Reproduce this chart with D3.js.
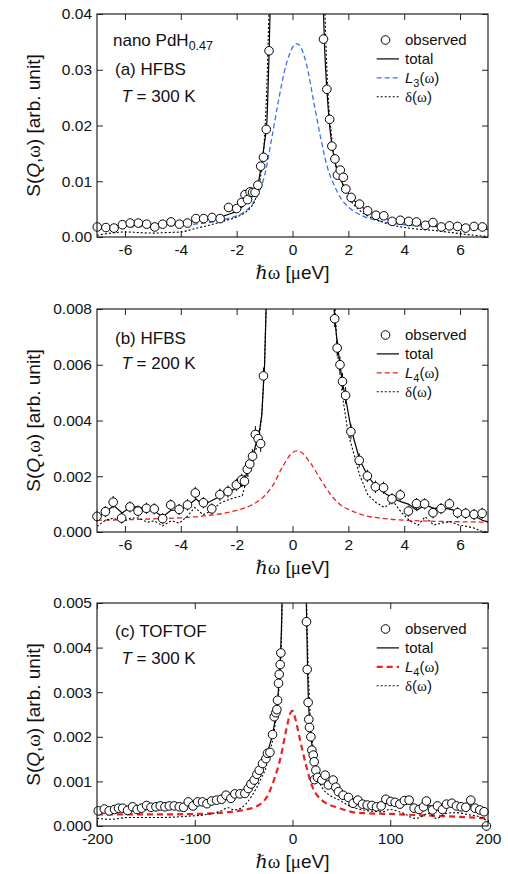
<!DOCTYPE html>
<html>
<head>
<meta charset="utf-8">
<script src="https://cdn.jsdelivr.net/npm/d3@7"></script>
<style>
  body { margin: 0; background: #fff; }
  text { font-family: "Liberation Sans", Arial, Helvetica, sans-serif; }
</style>
</head>
<body>
<div id="chart"></div>
<script>
// ---------- panel (a) HFBS 300 K ----------
const aObsX = [-6.99,-6.68,-6.39,-6.09,-5.81,-5.52,-5.22,-4.93,-4.65,-4.35,-4.05,-3.76,-3.46,-3.18,-2.88,-2.59,-2.29,-2.0,-1.82,-1.70,-1.61,-1.52,-1.43,-1.34,-1.24,-1.14,-1.04,-0.94,-0.84,
               1.11,1.23,1.33,1.41,1.52,1.61,1.71,1.82,1.91,2.10,2.40,2.69,2.99,3.27,3.57,3.86,4.16,4.44,4.76,5.03,5.33,5.62,5.91,6.20,6.50,6.80];
const aObsY = [0.0018,0.0017,0.0016,0.0022,0.0025,0.0025,0.0023,0.0018,0.0023,0.0027,0.0023,0.0025,0.0033,0.0033,0.0035,0.0033,0.0053,0.0051,0.0062,0.0076,0.0067,0.0081,0.0080,0.0080,0.0093,0.0127,0.0143,0.0193,0.0334,
               0.0355,0.0265,0.0211,0.0163,0.0140,0.0111,0.0120,0.0107,0.0086,0.0071,0.0059,0.0047,0.0039,0.0038,0.0028,0.0030,0.0028,0.0027,0.0021,0.0026,0.0018,0.0020,0.0019,0.0016,0.0019,0.0018];
const aTotX = [-7,-6,-5,-4,-3.5,-3,-2.5,-2,-1.8,-1.6,-1.4,-1.2,-1.1,-1.0,-0.92,-0.85,-0.78,-0.6,0.15,0.9,1.08,1.15,1.23,1.32,1.41,1.5,1.61,1.75,1.91,2.1,2.4,2.7,3.0,3.5,4,4.5,5,6,7];
const aTotY = [0.0018,0.0020,0.0022,0.0025,0.0029,0.0032,0.0037,0.0047,0.0054,0.0065,0.0078,0.0103,0.0135,0.0170,0.0205,0.0310,0.0450,0.080,0.20,0.080,0.045,0.034,0.0265,0.0205,0.0165,0.0140,0.0118,0.0100,0.0086,0.0071,0.0057,0.0047,0.0039,0.0031,0.0027,0.0024,0.0021,0.0017,0.0014];
const aLX = [-7,-6,-5,-4,-3.5,-3,-2.5,-2,-1.75,-1.5,-1.25,-1,-0.75,-0.5,-0.25,0,0.15,0.3,0.5,0.75,1,1.25,1.5,1.75,2,2.5,3,3.5,4,5,6,7];
const aLY = [0.0017,0.0018,0.0019,0.0021,0.0023,0.0026,0.0031,0.0038,0.0044,0.0055,0.0075,0.0110,0.0175,0.0245,0.0305,0.0340,0.0347,0.0340,0.0310,0.0245,0.0180,0.0125,0.0092,0.0068,0.0054,0.0038,0.0030,0.0025,0.0022,0.0019,0.0017,0.0015];
const aDX = [-7,-6.5,-6,-5.5,-5,-4.5,-4,-3.5,-3,-2.5,-2,-1.75,-1.5,-1.35,-1.2,-1.1,-1.0,-0.9,-0.8,0.15,1.1,1.25,1.4,1.55,1.75,2.0,2.4,3,3.7,4.5,5,6,6.5,7];
const aDY = [0.0003,0.0007,0.0009,0.0008,0.0007,0.0008,0.0009,0.0015,0.0021,0.0028,0.0036,0.0042,0.0053,0.0065,0.0092,0.0125,0.018,0.030,0.050,0.20,0.050,0.028,0.018,0.0128,0.0100,0.0072,0.0048,0.0031,0.0020,0.0014,0.0012,0.0006,0.0003,0.0001];

// ---------- panel (b) HFBS 200 K ----------
const bObsX = [-7.0,-6.70,-6.42,-6.12,-5.82,-5.53,-5.23,-4.95,-4.65,-4.36,-4.06,-3.76,-3.48,-3.19,-2.89,-2.60,-2.31,-2.01,-1.82,-1.72,-1.62,-1.53,-1.43,-1.33,-1.23,-1.14,-1.04,
               1.51,1.60,1.70,1.79,1.90,2.09,2.39,2.68,2.97,3.26,3.56,3.86,4.15,4.44,4.73,5.03,5.32,5.62,5.91,6.20,6.50,6.79];
const bObsY = [0.00056,0.00073,0.00107,0.00050,0.00090,0.00075,0.00085,0.00083,0.00048,0.00097,0.00081,0.00097,0.00140,0.00105,0.00083,0.00134,0.00145,0.00169,0.00187,0.00182,0.00225,0.00244,0.00272,0.00350,0.00335,0.00317,0.00560,
               0.00765,0.00660,0.00600,0.00540,0.00490,0.00360,0.00257,0.00201,0.00162,0.00159,0.00119,0.00133,0.00075,0.00102,0.00101,0.00069,0.00084,0.00101,0.00069,0.00067,0.00063,0.00067];
const bObsErr = [0.0002,0.0002,0.00022,0.0002,0.0002,0.0002,0.0002,0.0002,0.0002,0.0002,0.0002,0.0002,0.00022,0.0002,0.0002,0.00022,0.00022,0.00022,0.00022,0.00022,0.00025,0.00025,0.00025,0.0003,0.0003,0.0003,0.0003,
                 0.0003,0.0003,0.0003,0.0003,0.0003,0.00028,0.00025,0.00022,0.00022,0.00022,0.0002,0.0002,0.0002,0.0002,0.0002,0.0002,0.0002,0.0002,0.0002,0.0002,0.0002,0.0002];
const bTotX = [-7,-6.7,-6.4,-6.1,-5.8,-5.5,-5.2,-4.95,-4.65,-4.35,-4.05,-3.75,-3.45,-3.2,-2.9,-2.6,-2.3,-2.0,-1.8,-1.7,-1.6,-1.5,-1.4,-1.3,-1.2,-1.1,-1.0,-0.93,-0.85,0.2,
               1.35,1.45,1.5,1.6,1.7,1.8,1.9,2.1,2.4,2.7,3.0,3.3,3.6,3.9,4.15,4.45,4.75,5.05,5.3,5.6,5.9,6.2,6.5,6.8,7.0];
const bTotY = [0.00052,0.0007,0.00095,0.00068,0.0009,0.0009,0.00078,0.00075,0.00055,0.00078,0.00078,0.00095,0.00118,0.00097,0.00112,0.00128,0.00143,0.00158,0.00165,0.0019,0.0023,0.0025,0.0028,0.0032,0.0035,0.0042,0.0060,0.0085,0.0120,0.050,
               0.0115,0.0090,0.0078,0.0068,0.0060,0.0053,0.0048,0.0037,0.0026,0.0020,0.00162,0.0014,0.0012,0.00108,0.0010,0.00078,0.00098,0.00085,0.00086,0.00083,0.00075,0.00068,0.00058,0.00042,0.00036];
const bLX = [-7,-6,-5,-4,-3.5,-3,-2.5,-2,-1.5,-1.0,-0.7,-0.35,0,0.15,0.3,0.65,1.0,1.4,1.75,2.1,2.6,3.3,4.1,5.3,6.5,7];
const bLY = [0.00042,0.00044,0.00047,0.00051,0.00054,0.00060,0.00066,0.00078,0.00095,0.00130,0.00168,0.00235,0.00285,0.00291,0.00287,0.00246,0.00190,0.00130,0.00095,0.00077,0.00059,0.00048,0.00042,0.00038,0.00036,0.00035];
const bDX = [-7,-6.7,-6.4,-6.1,-5.8,-5.5,-5.2,-4.95,-4.65,-4.35,-4.05,-3.75,-3.5,-3.2,-2.9,-2.6,-2.3,-2.0,-1.8,-1.7,-1.6,-1.45,-1.3,-1.2,-1.1,-1.0,-0.9,0.2,
             1.45,1.6,1.8,2.0,2.2,2.4,2.7,3.0,3.3,3.6,3.9,4.2,4.5,4.75,5.05,5.35,5.65,5.95,6.25,6.5,6.8,7.0];
const bDY = [0.0002,0.00042,0.0005,0.00035,0.0005,0.0005,0.00035,0.0004,0.00022,0.0004,0.00032,0.00058,0.00088,0.00062,0.00076,0.00103,0.00116,0.00125,0.0013,0.00165,0.0020,0.0025,0.0030,0.0033,0.0042,0.0060,0.0100,0.050,
             0.0095,0.0065,0.0048,0.0035,0.0028,0.00205,0.00133,0.00105,0.00088,0.0011,0.0007,0.0004,0.00025,0.00055,0.00025,0.00032,0.00037,0.00025,0.0002,0.00014,0.00002,0.0];

// ---------- panel (c) TOFTOF 300 K ----------
const cObsX = [-198.7,-192.5,-187.5,-182,-178,-173.7,-168.7,-163.6,-159,-154.4,-149.3,-144.8,-139.7,-135.3,-130.5,-126,-121,-115.8,-111.4,-106.6,
               -101.8,-97,-92,-87.5,-82.8,-77.7,-72.6,-68,-63,-58.9,-53.8,-48.7,-45.3,-42.5,-39.2,-36.4,-34,-30.7,-27.2,-25.6,
               -23.1,-20.4,-18.7,-17,-16,-15.3,-14.3,-13.6,-12.6,-11.9,
               14.3,15,16,16.7,17.4,18.8,19.8,21.2,22.2,22.5,23.9,25.6,30,33.4,36.8,41.6,44.3,47,51.8,57.3,
               62,66.8,71.6,76.4,81.2,85.9,90.7,95.5,100.6,105,109.8,114.5,119.3,124.4,129.5,134,137,143.2,148.3,153.4,
               157.5,163,167.7,172.5,177.3,182.4,186.8,191.6,196,198.4];
const cObsY = [0.00034,0.00038,0.00034,0.00037,0.0004,0.0004,0.00035,0.00043,0.00037,0.0004,0.00046,0.00042,0.00043,0.00045,0.00043,0.00045,0.00045,0.00043,0.00042,0.00054,
               0.00045,0.00054,0.00054,0.0005,0.00056,0.00058,0.0006,0.00069,0.00062,0.00072,0.00072,0.00073,0.00084,0.00094,0.00103,0.00116,0.00125,0.0014,0.00151,0.00163,
               0.00165,0.00205,0.00245,0.00254,0.00261,0.00282,0.0032,0.0034,0.00362,0.00388,
               0.00458,0.00351,0.00277,0.00239,0.00221,0.0020,0.0017,0.00159,0.00144,0.00104,0.00125,0.00109,0.00103,0.00114,0.00092,0.00103,0.00087,0.00077,0.00069,0.00064,
               0.00051,0.00058,0.00049,0.00047,0.00046,0.00043,0.00045,0.0006,0.00055,0.00053,0.00049,0.00057,0.00058,0.0004,0.00037,0.00043,0.00056,0.00036,0.00045,0.00037,
               0.00049,0.00051,0.00045,0.00043,0.00042,0.00058,0.0004,0.00036,0.00032,0.0];
const cTotX = [-200,-180,-160,-140,-120,-100,-90,-80,-70,-60,-50,-45,-40,-35,-30,-25,-20,-17,-15,-13,-12,-11,-10,0,
               13,14,15,16,17,18,20,22,25,30,35,40,45,50,60,70,80,90,100,110,120,130,140,150,160,170,180,190,200];
const cTotY = [0.00035,0.00038,0.0004,0.00043,0.00045,0.00048,0.00052,0.00056,0.00062,0.00068,0.0008,0.0009,0.00102,0.0012,0.0014,0.0017,0.0021,0.0025,0.0029,0.0035,0.0040,0.0047,0.0060,0.050,
               0.0065,0.0052,0.0040,0.0030,0.0025,0.0022,0.0018,0.0015,0.00122,0.00104,0.00098,0.00095,0.00088,0.00076,0.00062,0.00052,0.00048,0.00047,0.00052,0.0005,0.0005,0.00045,0.00045,0.00043,0.00046,0.00045,0.00045,0.0004,0.00028];
const cLX = [-200,-170,-135,-100,-66,-50,-36,-26,-19,-12,-6,-2,0,3,7,14,20,30,48,65,99,133,167,200];
const cLY = [0.00026,0.00026,0.00026,0.00027,0.00031,0.00036,0.00045,0.00066,0.00103,0.00155,0.0022,0.00254,0.00258,0.0024,0.0020,0.00135,0.0009,0.00058,0.0004,0.0003,0.00027,0.00024,0.00021,0.00017];
const cDX = [-200,-186,-169,-135,-107,-90,-73,-66,-60,-53,-46,-39,-32,-27,-24,-20,-16,-13,-11,0,
             14,15.5,17,19,22,26,31,38,48,58,72,93,99,112,126,140,147,157,167,181,191,200];
const cDY = [0.00017,0.00015,0.00019,0.00019,0.00022,0.00025,0.00034,0.00041,0.00036,0.0004,0.00054,0.00077,0.00107,0.00133,0.00163,0.00195,0.0026,0.0034,0.0045,0.050,
             0.0055,0.0040,0.0030,0.0022,0.0016,0.0011,0.00084,0.00069,0.00058,0.00045,0.00036,0.00032,0.00037,0.0003,0.00017,0.00028,0.00017,0.00028,0.0003,0.00025,0.00021,0.0001];

// ---------- ticks ----------
const hfbsXTicks = [-6, -4, -2, 0, 2, 4, 6];
const tofXTicks = [-200, -100, 0, 100, 200];
const aYTicks = [0, 0.01, 0.02, 0.03, 0.04];
const bYTicks = [0, 0.002, 0.004, 0.006, 0.008];
const cYTicks = [0, 0.001, 0.002, 0.003, 0.004, 0.005];

// Set up the SVG canvas
const width = 508;
const height = 874;
const margin = { left: 97 };
const plotW = 391;
const plotH = 223;
const serif = "'Liberation Serif', 'DejaVu Serif', serif";
const blue = "#3a6ff0";
const red = "#ee2020";

const svg = d3.select("#chart")
    .append("svg")
    .attr("width", width)
    .attr("height", height);

const panels = [
    { id: "a", top: 14, xDomain: [-7, 7], yDomain: [0, 0.04], xTicks: hfbsXTicks, yTicks: aYTicks, yFmt: d3.format(".2f"),
      obs: d3.zip(aObsX, aObsY), err: null, tot: d3.zip(aTotX, aTotY), lor: d3.zip(aLX, aLY), del: d3.zip(aDX, aDY),
      curve: d3.curveMonotoneX, lorColor: blue, lorWidth: 1.3, lorDash: "5,3", sub: "3",
      labels: [["nano PdH", "0.47", 32], ["(a) HFBS", null, 61], ["T", " = 300 K", 87.7]] },
    { id: "b", top: 309, xDomain: [-7, 7], yDomain: [0, 0.008], xTicks: hfbsXTicks, yTicks: bYTicks, yFmt: d3.format(".3f"),
      obs: d3.zip(bObsX, bObsY, bObsErr), err: true, tot: d3.zip(bTotX, bTotY), lor: d3.zip(bLX, bLY), del: d3.zip(bDX, bDY),
      curve: d3.curveLinear, lorColor: red, lorWidth: 1.3, lorDash: "5,3", sub: "4",
      labels: [["(b) HFBS", null, 35], ["T", " = 200 K", 60]] },
    { id: "c", top: 603, xDomain: [-200, 200], yDomain: [0, 0.005], xTicks: tofXTicks, yTicks: cYTicks, yFmt: d3.format(".3f"),
      obs: d3.zip(cObsX, cObsY), err: null, tot: d3.zip(cTotX, cTotY), lor: d3.zip(cLX, cLY), del: d3.zip(cDX, cDY),
      curve: d3.curveMonotoneX, lorColor: red, lorWidth: 2.2, lorDash: "6,4", sub: "4",
      labels: [["(c) TOFTOF", null, 34], ["T", " = 300 K", 60.7]] }
];

function styleAxis(sel, fontSize) {
    sel.select(".domain").remove();
    sel.selectAll(".tick line").attr("stroke", "#222").attr("stroke-width", 1);
    sel.selectAll(".tick text")
        .attr("fill", "#111")
        .style("font-size", fontSize + "px")
        .style("font-family", "'Liberation Sans', Arial, sans-serif");
}

panels.forEach(function (p) {
    const g = svg.append("g").attr("transform", `translate(${margin.left},${p.top})`);

    const x = d3.scaleLinear().domain(p.xDomain).range([0, plotW]);
    const y = d3.scaleLinear().domain(p.yDomain).range([plotH, 0]);

    g.append("clipPath").attr("id", "clip-" + p.id)
        .append("rect").attr("width", plotW).attr("height", plotH);

    // Axes, ticks pointing inward on all four sides
    g.append("g").attr("transform", `translate(0,${plotH})`)
        .call(d3.axisBottom(x).tickValues(p.xTicks).tickFormat(d => String(d)).tickSizeInner(-6).tickSizeOuter(0).tickPadding(7))
        .call(sel => styleAxis(sel, 15.5));
    g.append("g")
        .call(d3.axisTop(x).tickValues(p.xTicks).tickFormat("").tickSizeInner(-6).tickSizeOuter(0))
        .call(sel => styleAxis(sel, 15.5));
    g.append("g")
        .call(d3.axisLeft(y).tickValues(p.yTicks).tickFormat(p.yFmt).tickSizeInner(-6).tickSizeOuter(0).tickPadding(5))
        .call(sel => styleAxis(sel, 15.5));
    g.append("g").attr("transform", `translate(${plotW},0)`)
        .call(d3.axisRight(y).tickValues(p.yTicks).tickFormat("").tickSizeInner(-6).tickSizeOuter(0))
        .call(sel => styleAxis(sel, 15.5));

    // Curves
    const line = d3.line().x(d => x(d[0])).y(d => y(d[1])).curve(p.curve);
    const smooth = d3.line().x(d => x(d[0])).y(d => y(d[1])).curve(d3.curveMonotoneX);
    const lines = g.append("g").attr("clip-path", `url(#clip-${p.id})`);

    lines.append("path").datum(p.lor)
        .attr("d", smooth).attr("fill", "none")
        .attr("stroke", p.lorColor).attr("stroke-width", p.lorWidth).attr("stroke-dasharray", p.lorDash);
    lines.append("path").datum(p.del)
        .attr("d", line).attr("fill", "none")
        .attr("stroke", "#000").attr("stroke-width", 1.1).attr("stroke-dasharray", "2,2");
    lines.append("path").datum(p.tot)
        .attr("d", line).attr("fill", "none")
        .attr("stroke", "#000").attr("stroke-width", 1.2);

    // Error bars
    if (p.err) {
        g.append("g").selectAll("line")
            .data(p.obs).enter().append("line")
            .attr("x1", d => x(d[0])).attr("x2", d => x(d[0]))
            .attr("y1", d => y(d[1] - d[2])).attr("y2", d => y(d[1] + d[2]))
            .attr("stroke", "#000").attr("stroke-width", 1);
    }

    // Observed points
    g.append("g").selectAll("circle")
        .data(p.obs).enter().append("circle")
        .attr("cx", d => x(d[0])).attr("cy", d => y(d[1]))
        .attr("r", 4.3)
        .attr("fill", "#fff").attr("stroke", "#000").attr("stroke-width", 1);

    // Frame
    g.append("rect").attr("width", plotW).attr("height", plotH)
        .attr("fill", "none").attr("stroke", "#222").attr("stroke-width", 1.2);

    // Panel annotation text
    p.labels.forEach(function (lab) {
        const t = g.append("text").attr("y", lab[2]).style("font-size", "17px").attr("fill", "#111");
        if (lab[0] === "T") {
            t.attr("x", 24.5);
            t.append("tspan").style("font-style", "italic").text("T");
            t.append("tspan").text(lab[1]);
        } else {
            t.attr("x", lab[1] ? 16 : 18);
            t.append("tspan").text(lab[0]);
            if (lab[1]) t.append("tspan").attr("dy", 4).style("font-size", "12.5px").text(lab[1]);
        }
    });

    // Legend
    const leg = g.append("g").attr("transform", "translate(0,26)");
    const rowGap = 18.9;
    const lx0 = 279.7, lx1 = 302, tx = 308;
    leg.append("circle").attr("cx", 288.5).attr("cy", 0).attr("r", 4.3)
        .attr("fill", "#fff").attr("stroke", "#000");
    leg.append("line").attr("x1", lx0).attr("x2", lx1).attr("y1", rowGap).attr("y2", rowGap)
        .attr("stroke", "#000").attr("stroke-width", 1.2);
    leg.append("line").attr("x1", lx0).attr("x2", lx1).attr("y1", rowGap * 2).attr("y2", rowGap * 2)
        .attr("stroke", p.lorColor).attr("stroke-width", p.lorWidth).attr("stroke-dasharray", p.lorDash);
    leg.append("line").attr("x1", lx0).attr("x2", lx1).attr("y1", rowGap * 3).attr("y2", rowGap * 3)
        .attr("stroke", "#000").attr("stroke-width", 1.1).attr("stroke-dasharray", "2,2");

    const legText = (row) => leg.append("text").attr("x", tx).attr("y", row * rowGap + 5.4)
        .style("font-size", "15px").attr("fill", "#111");
    legText(0).text("observed");
    legText(1).text("total");
    const lt = legText(2);
    lt.append("tspan").style("font-style", "italic").text("L");
    lt.append("tspan").attr("dy", 4).style("font-size", "11px").text(p.sub);
    lt.append("tspan").attr("dy", -4).text("(");
    lt.append("tspan").style("font-family", serif).text("ω");
    lt.append("tspan").text(")");
    const dt = legText(3);
    dt.append("tspan").style("font-family", serif).text("δ");
    dt.append("tspan").text("(");
    dt.append("tspan").style("font-family", serif).text("ω");
    dt.append("tspan").text(")");

    // Axis labels
    const yl = svg.append("text")
        .attr("transform", `translate(40,${p.top + plotH / 2}) rotate(-90)`)
        .attr("text-anchor", "middle")
        .style("font-size", "19px").attr("fill", "#111");
    yl.append("tspan").text("S(");
    yl.append("tspan").style("font-style", "italic").text("Q");
    yl.append("tspan").text(",");
    yl.append("tspan").style("font-family", serif).text("ω");
    yl.append("tspan").text(") [arb. unit]");

    const xl = svg.append("text")
        .attr("x", margin.left + plotW / 2).attr("y", p.top + plotH + 42)
        .attr("text-anchor", "middle")
        .style("font-size", "19px").attr("fill", "#111");
    xl.append("tspan").style("font-family", serif).style("font-style", "italic").text("ℏ");
    xl.append("tspan").style("font-family", serif).text("ω");
    xl.append("tspan").text(" [");
    xl.append("tspan").style("font-family", serif).text("μ");
    xl.append("tspan").text("eV]");
});
</script>
</body>
</html>
